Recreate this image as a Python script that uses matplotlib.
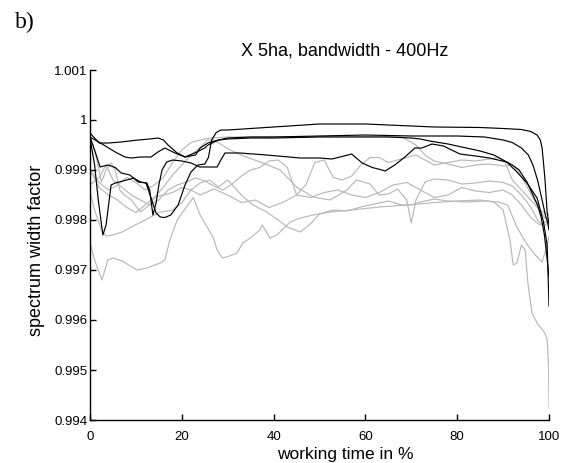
import matplotlib
matplotlib.use("Agg")
import matplotlib.pyplot as plt

# ---- measured runs: black = first group, grey = second group ----
k1_x = [0, 1, 2.2, 3.9, 5.5, 6.8, 8.7, 10.5, 12.2, 13.3, 14.4, 15.3, 16.3, 17.6, 19.2, 20.7, 22, 23.5, 25,
        25.8, 26.5, 27.5, 28.5, 30, 40, 50, 60, 70, 75, 85, 90, 94, 96, 97.4, 98.1, 98.5, 99.1, 99.6, 100]
k1_y = [0.99966, 0.9994, 0.99906, 0.9991, 0.99905, 0.99894, 0.9989, 0.99876, 0.99874, 0.99844, 0.99814, 0.99806,
        0.99805, 0.9981, 0.9983, 0.9987, 0.99896, 0.9991, 0.99912, 0.99925, 0.9996, 0.99975, 0.9998, 0.9998,
        0.99986, 0.99992, 0.99992, 0.99988, 0.99986, 0.99985, 0.99983, 0.99981, 0.99977, 0.9997, 0.9996,
        0.99944, 0.99884, 0.99816, 0.9979]

k2_x = [0, 2, 4, 6.8, 10.5, 13, 14.8, 16, 17, 19, 20.7, 23, 24, 25.7, 28, 30, 35, 40, 50, 60, 70, 80, 86,
        90, 92, 94, 95.5, 96.5, 97.5, 98.5, 99.2, 99.7, 100]
k2_y = [0.99974, 0.99954, 0.99954, 0.99956, 0.9996, 0.99962, 0.99964, 0.9996, 0.9995, 0.99934, 0.99926, 0.9993,
        0.99944, 0.99954, 0.9996, 0.99964, 0.99966, 0.99966, 0.99968, 0.9997, 0.99968, 0.99968, 0.99966, 0.9996,
        0.99955, 0.99944, 0.9993, 0.9991, 0.9988, 0.9984, 0.9981, 0.99795, 0.9978]

k3_x = [0, 3, 5.5, 7.6, 9, 11, 13.3, 14.8, 16.3, 18.5, 20.7, 22.8, 25, 25.7, 28, 30, 35, 40, 50, 60, 65, 70,
        72, 74, 78, 82, 85, 88, 90, 92, 93.5, 95.2, 96.5, 97.5, 98.3, 99, 99.5, 100]
k3_y = [0.99966, 0.9995, 0.99936, 0.99926, 0.99924, 0.99926, 0.99926, 0.99936, 0.99944, 0.99934, 0.99926,
        0.99934, 0.99944, 0.9995, 0.9996, 0.99962, 0.99964, 0.99964, 0.99966, 0.99966, 0.99966, 0.99964, 0.99962,
        0.99958, 0.99952, 0.99944, 0.99938, 0.9993, 0.9992, 0.9991, 0.999, 0.99876, 0.9985, 0.9983, 0.99805,
        0.9977, 0.9973, 0.99686]

k4_x = [0, 1, 1.8, 2.8, 3.5, 4.6, 5.5, 8, 9.5, 11, 12.4, 13, 13.7, 14.4, 15, 15.7, 16.7, 18, 20, 22, 23.9,
        25.5, 27.7, 28.5, 29.4, 32.7, 38.5, 45.8, 50, 52.7, 56.2, 57, 59.3, 61.5, 63.6, 64.3, 66.4, 68.6, 70.8,
        72.3, 74.5, 77, 80.6, 84, 87, 90.8, 93, 95.2, 97.4, 98.8, 99.6, 100]
k4_y = [0.99964, 0.9991, 0.9984, 0.9977, 0.9979, 0.9987, 0.99874, 0.9988, 0.99884, 0.99876, 0.99874, 0.9986,
        0.9981, 0.99834, 0.9987, 0.999, 0.99916, 0.9992, 0.99918, 0.99914, 0.99906, 0.99906, 0.99906, 0.9992,
        0.99934, 0.99934, 0.9993, 0.99924, 0.99924, 0.99922, 0.9993, 0.99932, 0.99914, 0.99905, 0.999, 0.99898,
        0.9991, 0.99926, 0.99944, 0.99944, 0.99952, 0.99948, 0.99932, 0.99928, 0.99924, 0.99916, 0.99896,
        0.99874, 0.99844, 0.99796, 0.9975, 0.99628]

g1_x = [0, 1, 2.6, 3.9, 5, 7, 10.2, 12.4, 15.3, 16.3, 17.4, 19, 21, 22.5, 24, 25.5, 26.8, 27.7, 28.8, 29.8,
        32, 33.3, 34.9, 37, 37.5, 39.2, 40.7, 41.4, 43.6, 45.8, 48.6, 52.3, 57, 63, 69, 74, 80, 85, 88, 90,
        91.5, 92.2, 93, 94, 94.8, 95.4, 96.3, 97.4, 99.1, 99.6, 99.9, 100]
g1_y = [0.99754, 0.9972, 0.9968, 0.9972, 0.99724, 0.99718, 0.997, 0.99704, 0.99714, 0.9972, 0.9976, 0.998,
        0.99826, 0.99845, 0.9981, 0.99786, 0.99766, 0.9974, 0.99724, 0.99726, 0.99734, 0.99754, 0.99764,
        0.9978, 0.9979, 0.99764, 0.9977, 0.99776, 0.99796, 0.99804, 0.9981, 0.99816, 0.9982, 0.99826, 0.9983,
        0.99834, 0.99838, 0.9984, 0.99836, 0.9982, 0.9976, 0.9971, 0.99714, 0.9975, 0.9974, 0.99674, 0.99614,
        0.99594, 0.99574, 0.9956, 0.9951, 0.99426]

g2_x = [0, 1, 2.5, 3.5, 5, 7, 9, 12, 15, 18, 20, 22, 24, 26, 28, 30, 33, 35.5, 38.5, 41, 43, 45.8, 48, 50,
        53, 56, 59, 62, 65, 68, 70, 72, 75, 78, 82, 86, 89, 91, 93, 95, 97, 98.5, 99.3, 100]
g2_y = [0.99856, 0.9982, 0.9978, 0.99768, 0.9977, 0.99776, 0.99786, 0.998, 0.99815, 0.9982, 0.99835, 0.9986,
        0.99874, 0.9988, 0.99866, 0.9988, 0.9985, 0.9983, 0.99816, 0.998, 0.99786, 0.99776, 0.99792, 0.99812,
        0.9982, 0.99818, 0.99826, 0.99832, 0.99838, 0.9983, 0.9983, 0.99836, 0.99842, 0.99838, 0.99836,
        0.99838, 0.99836, 0.9983, 0.99786, 0.99754, 0.9973, 0.99716, 0.9974, 0.99766]

g3_x = [0, 1.5, 2.5, 3.5, 4.6, 5.5, 6.5, 7.5, 9, 11, 13, 14.5, 16, 18, 20, 22, 24, 25.5, 27, 30.5, 34, 37.7,
        41.4, 45, 48.6, 52.3, 56, 58, 61, 63, 65, 67, 69, 70, 71, 73, 75, 78, 81, 84, 87, 90, 92, 94, 96,
        97.5, 98.5, 99.3, 100]
g3_y = [0.9997, 0.9992, 0.99876, 0.999, 0.99914, 0.999, 0.9986, 0.9985, 0.9984, 0.99816, 0.9983, 0.9985,
        0.99866, 0.9989, 0.9991, 0.9993, 0.99945, 0.9996, 0.9996, 0.9994, 0.99926, 0.99914, 0.999, 0.99866,
        0.99846, 0.9984, 0.9986, 0.9988, 0.99872, 0.9985, 0.99852, 0.99862, 0.9984, 0.99794, 0.9984, 0.99876,
        0.99882, 0.9988, 0.99872, 0.99874, 0.99878, 0.99875, 0.99868, 0.9985, 0.99826, 0.998, 0.9979, 0.9979,
        0.998]

g4_x = [0, 2, 4, 6, 8, 10, 12, 14, 16, 18, 20, 22, 24, 26, 30, 35, 40, 45, 50, 55, 60, 64, 68, 71, 73, 75,
        78, 81, 84, 87, 90, 92, 93.5, 95, 96.5, 98, 99, 100]
g4_y = [0.999, 0.99875, 0.9986, 0.9987, 0.99885, 0.99875, 0.9986, 0.9987, 0.99885, 0.99915, 0.9994, 0.99955,
        0.9996, 0.99964, 0.99966, 0.99966, 0.99967, 0.99966, 0.99967, 0.99967, 0.99967, 0.99967, 0.99966,
        0.9995, 0.9993, 0.99918, 0.99912, 0.99905, 0.9991, 0.99912, 0.99908, 0.9991, 0.99895, 0.9987, 0.99845,
        0.9982, 0.99805, 0.998]

g5_x = [0, 2, 3.5, 5, 7, 9, 11, 13, 15, 17, 19, 21, 23, 25, 27, 29, 31, 33, 35, 37, 39, 41, 43, 45, 47, 49,
        51, 53, 55, 57, 59, 61, 63, 65, 67, 69, 71, 73, 75, 78, 81, 84, 87, 89, 90.5, 92, 94, 96, 98, 100]
g5_y = [0.9987, 0.99885, 0.9991, 0.9988, 0.99865, 0.9985, 0.9984, 0.9983, 0.9984, 0.9986, 0.9987, 0.99876,
        0.99884, 0.99878, 0.99868, 0.9986, 0.99872, 0.99888, 0.999, 0.99905, 0.99918, 0.9992, 0.99905, 0.9985,
        0.9987, 0.99915, 0.9992, 0.99885, 0.9988, 0.99888, 0.9991, 0.99925, 0.99925, 0.99915, 0.9992, 0.99925,
        0.9993, 0.9992, 0.9991, 0.99915, 0.9992, 0.99918, 0.99922, 0.99925, 0.99915, 0.9988, 0.9986, 0.9984,
        0.9982, 0.9981]

g6_x = [0, 2, 4, 6, 8, 10, 12, 14, 16, 18, 20, 22, 24, 27, 30, 33, 36, 39, 42, 45, 48, 51, 54, 57, 60, 63,
        66, 69, 72, 75, 78, 81, 84, 87, 90, 92, 94, 96, 98, 100]
g6_y = [0.999, 0.99865, 0.9985, 0.9984, 0.99825, 0.99815, 0.9983, 0.99845, 0.9985, 0.99855, 0.99865, 0.9986,
        0.9985, 0.99862, 0.9985, 0.99835, 0.9984, 0.99825, 0.99835, 0.9985, 0.99845, 0.99855, 0.9986, 0.9985,
        0.99845, 0.99855, 0.9987, 0.99875, 0.9986, 0.99845, 0.9985, 0.99865, 0.99858, 0.99855, 0.9986, 0.9985,
        0.9983, 0.99805, 0.9979, 0.998]

black_runs = [(k1_x, k1_y), (k2_x, k2_y), (k3_x, k3_y), (k4_x, k4_y)]
grey_runs = [(g1_x, g1_y), (g2_x, g2_y), (g3_x, g3_y), (g4_x, g4_y), (g5_x, g5_y), (g6_x, g6_y)]

x_ticks = [0, 20, 40, 60, 80, 100]
y_ticks = [0.994, 0.995, 0.996, 0.997, 0.998, 0.999, 1.0, 1.001]
y_tick_labels = ["0.994", "0.995", "0.996", "0.997", "0.998", "0.999", "1", "1.001"]

sans = ["Liberation Sans", "DejaVu Sans"]
plt.rcParams["font.family"] = sans

W, H = 573, 463
fig = plt.figure(figsize=(W / 100, H / 100), dpi=100)
ax = fig.add_axes([90 / W, 1 - 420 / H, 459 / W, 350 / H])

for xs, ys in grey_runs:
    ax.plot(xs, ys, color="#b8b8b8", lw=0.85)
for xs, ys in black_runs:
    ax.plot(xs, ys, color="black", lw=0.85)

ax.set_xlim(0, 100)
ax.set_ylim(0.994, 1.001)
ax.set_xticks(x_ticks)
ax.set_yticks(y_ticks)
ax.set_yticklabels(y_tick_labels)
ax.spines["top"].set_visible(False)
ax.spines["right"].set_visible(False)
for s in ("left", "bottom"):
    ax.spines[s].set_linewidth(1.0)
ax.tick_params(axis="both", direction="in", length=4, width=1.0, labelsize=9.5)
ax.tick_params(axis="x", pad=8)
ax.tick_params(axis="y", pad=2)

fig.text(345 / W, 1 - 51 / H, "X 5ha, bandwidth - 400Hz", ha="center", va="center", fontsize=13)
fig.text(345 / W, 1 - 455 / H, "working time in %", ha="center", va="center", fontsize=12.5)
fig.text(37 / W, 1 - 250 / H, "spectrum width factor", ha="center", va="center", rotation=90, fontsize=13)
fig.text(15 / W, 1 - 28 / H, "b)", ha="left", va="baseline", fontsize=17,
         family=["Liberation Serif", "DejaVu Serif"])

fig.savefig("out.png", dpi=100)
